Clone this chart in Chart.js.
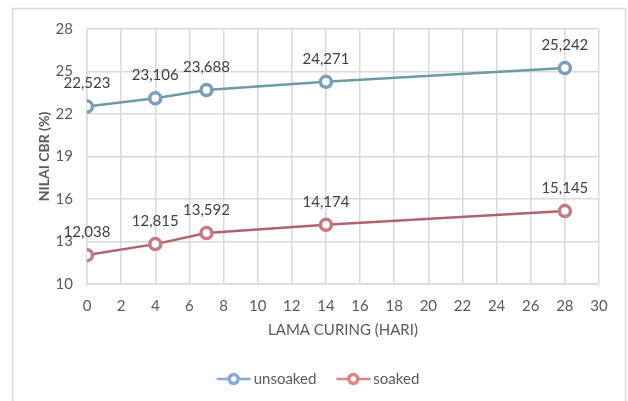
<!DOCTYPE html>
<html>
<head>
<meta charset="utf-8">
<script src="https://cdn.jsdelivr.net/npm/chart.js@4/dist/chart.umd.min.js"></script>
<style>
  html, body { margin: 0; padding: 0; background: #fff; }
  #wrap { position: relative; width: 628px; height: 401px; }
</style>
</head>
<body>
<div id="wrap"><canvas id="c" width="628" height="401"></canvas></div>
<script>
// Curing time (days) and CBR values (%)
const curingDays = [0, 4, 7, 14, 28];
const unsoaked = [22.523, 23.106, 23.688, 24.271, 25.242];
const soaked = [12.038, 12.815, 13.592, 14.174, 15.145];
const seriesNames = ['unsoaked', 'soaked'];
const xTitle = 'LAMA CURING (HARI)';
const yTitle = 'NILAI CBR (%)';

const FONT = 'Lato, "Open Sans", sans-serif';
const TEXT = '#595959';
const GRID = '#d9d9d9';

const lineColors = ['#6d9aa3', '#b4616c'];
const markerColors = ['#7a9dbb', '#c47a80'];
const legendColors = ['#86a9d6', '#d98686'];

const fmt = v => v.toFixed(3).replace('.', ',');

// outer frame around the whole chart
const framePlugin = {
  id: 'frame',
  beforeDraw(chart) {
    const ctx = chart.ctx;
    ctx.save();
    ctx.strokeStyle = GRID;
    ctx.lineWidth = 1.5;
    ctx.strokeRect(12.5, 8.5, 613, 420);
    ctx.restore();
  }
};

// value labels above each point
const valueLabels = {
  id: 'valueLabels',
  afterDatasetsDraw(chart) {
    const ctx = chart.ctx;
    ctx.save();
    ctx.font = '15px ' + FONT;
    ctx.fillStyle = '#404040';
    ctx.textAlign = 'center';
    ctx.textBaseline = 'middle';
    chart.data.datasets.forEach((ds, i) => {
      chart.getDatasetMeta(i).data.forEach((pt, j) => {
        ctx.fillText(fmt(ds.data[j].y), pt.x, pt.y - 23);
      });
    });
    ctx.restore();
  }
};

// legend: short line with a marker, then the series name
const lineLegend = {
  id: 'lineLegend',
  afterDraw(chart) {
    const ctx = chart.ctx;
    ctx.save();
    ctx.font = '15px ' + FONT;
    ctx.textBaseline = 'middle';
    const y = 379;
    const gap = 20;
    const items = seriesNames.map(n => 34 + 3 + ctx.measureText(n).width);
    const total = items.reduce((a, b) => a + b, 0) + gap * (items.length - 1);
    let x = (chart.width - total) / 2 + 4;
    seriesNames.forEach((name, i) => {
      ctx.strokeStyle = legendColors[i];
      ctx.lineWidth = 2.5;
      ctx.beginPath();
      ctx.moveTo(x, y);
      ctx.lineTo(x + 34, y);
      ctx.stroke();
      ctx.beginPath();
      ctx.arc(x + 17, y, 4.5, 0, Math.PI * 2);
      ctx.fillStyle = '#fff';
      ctx.fill();
      ctx.lineWidth = 3.5;
      ctx.stroke();
      ctx.fillStyle = TEXT;
      ctx.textAlign = 'left';
      ctx.fillText(name, x + 37, y);
      x += items[i] + gap;
    });
    ctx.restore();
  }
};

const toPoints = arr => arr.map((v, i) => ({ x: curingDays[i], y: v }));

new Chart(document.getElementById('c'), {
  type: 'line',
  data: {
    datasets: [unsoaked, soaked].map((vals, i) => ({
      label: seriesNames[i],
      data: toPoints(vals),
      borderColor: lineColors[i],
      borderWidth: 2.5,
      pointRadius: 5.5,
      pointBorderWidth: 3.5,
      pointBorderColor: markerColors[i],
      pointBackgroundColor: '#fff',
      tension: 0
    }))
  },
  options: {
    responsive: false,
    animation: false,
    events: [],
    layout: { padding: { left: 0, top: 29, right: 29, bottom: 62 } },
    plugins: { legend: { display: false }, tooltip: { enabled: false } },
    scales: {
      x: {
        type: 'linear',
        min: 0, max: 30,
        ticks: { stepSize: 2, color: TEXT, font: { family: FONT, size: 15 }, padding: 13 },
        grid: { color: GRID, lineWidth: 1.5, drawTicks: false },
        border: { color: GRID, width: 1.5 },
        title: { display: true, text: xTitle, color: TEXT, font: { family: FONT, size: 15 }, padding: { top: 0, bottom: 0 } },
        afterFit(s) { s.height = 55; }
      },
      y: {
        min: 10, max: 28,
        ticks: { stepSize: 3, color: TEXT, font: { family: FONT, size: 15 }, padding: 14 },
        grid: { color: GRID, lineWidth: 1.5, drawTicks: false },
        border: { color: GRID, width: 1.5 },
        title: { display: true, text: yTitle, color: TEXT, font: { family: FONT, size: 14, weight: 'bold' }, padding: { top: 36, bottom: 0 } },
        afterFit(s) { s.width = 87; }
      }
    }
  },
  plugins: [framePlugin, valueLabels, lineLegend]
});
</script>
</body>
</html>
